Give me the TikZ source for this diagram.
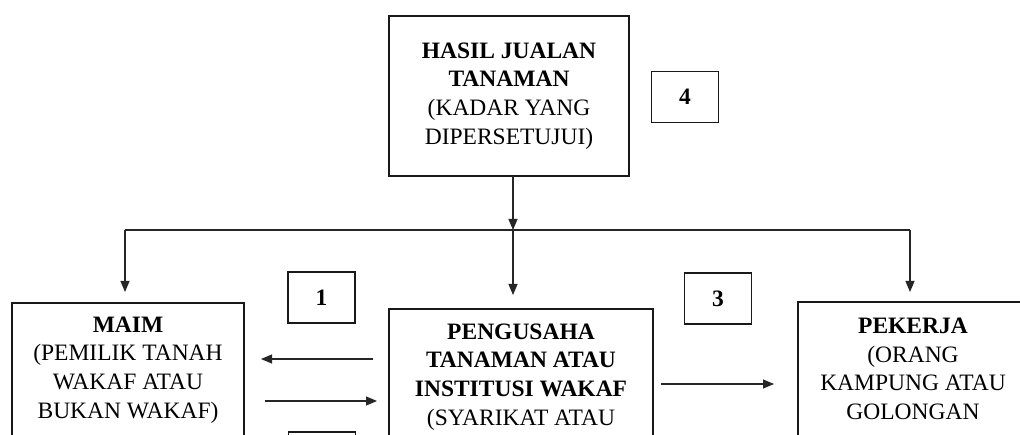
\documentclass[tikz,border=0pt]{standalone}
\usepackage{fontspec}
\setmainfont{Liberation Serif}
\usetikzlibrary{arrows.meta,calc}
\tikzset{
  boxn/.style={draw=black!90, line width=1.6pt, inner sep=0pt, outer sep=0pt},
  numbox/.style={boxn, minimum width=67pt, minimum height=51pt, font=\fontsize{23.5}{28.7}\selectfont\bfseries},
  lbl/.style={align=center, inner sep=0pt, font=\fontsize{23.5}{28.7}\selectfont},
  arr/.style={draw=black!85, line width=1.1pt, -{Triangle[length=11pt,width=9pt]}},
  ln/.style={draw=black!85, line width=1.1pt},
}
\begin{document}
\begin{tikzpicture}[x=1pt,y=-1pt]
\useasboundingbox (0,0) rectangle (1020,435);
\fill[white] (0,0) rectangle (1020,435);
\begin{scope}
\clip (0,0) rectangle (1020,435);
% main boxes
\node (top) [boxn, lbl, minimum width=240pt, minimum height=160pt] at (509,96)
  {\textbf{HASIL JUALAN}\\\textbf{TANAMAN}\\(KADAR YANG\\DIPERSETUJUI)};
\node (maim) [boxn, anchor=north west, minimum width=232pt, minimum height=200pt] at (12,303) {};
\node (maimt) [lbl] at (128,370) {\textbf{MAIM}\\(PEMILIK TANAH\\WAKAF ATAU\\BUKAN WAKAF)};
\node (peng) [boxn, anchor=north west, minimum width=264pt, minimum height=200pt] at (389,309) {};
\node (pengt) [lbl] at (521,377) {\textbf{PENGUSAHA}\\\textbf{TANAMAN ATAU}\\\textbf{INSTITUSI WAKAF}\\(SYARIKAT ATAU};
\node (pek) [boxn, anchor=north west, minimum width=230pt, minimum height=200pt] at (798,302) {};
\node (pekt) [lbl] at (913,369) {\textbf{PEKERJA}\\(ORANG\\KAMPUNG ATAU\\GOLONGAN};
% number boxes
\node (n4) [numbox] at (685,97) {4};
\node (n1) [numbox] at (321.5,297.5) {1};
\node (n3) [numbox] at (718,298.5) {3};
\node (n2) [numbox] at (322,457.5) {};
% connectors
\coordinate (j) at (513,230);
\coordinate (L) at (125,230);
\coordinate (R) at (910,230);
\coordinate (y1) at (0,359);
\coordinate (y2) at (0,401);
\coordinate (y3) at (0,384);
\draw[arr] (top.south -| j) -- (j);
\draw[ln] (L) -- (R);
\draw[arr, shorten >=11pt] (L) -- (L |- maim.north);
\draw[arr, shorten >=14pt] (j) -- (j |- peng.north);
\draw[arr, shorten >=10pt] (R) -- (R |- pek.north);
\draw[arr, shorten <=16pt, shorten >=17pt] (peng.west |- y1) -- (maim.east |- y1);
\draw[arr, shorten <=21pt, shorten >=12pt] (maim.east |- y2) -- (peng.west |- y2);
\draw[arr, shorten <=8pt, shorten >=24pt] (peng.east |- y3) -- (pek.west |- y3);
\end{scope}
\end{tikzpicture}
\end{document}
